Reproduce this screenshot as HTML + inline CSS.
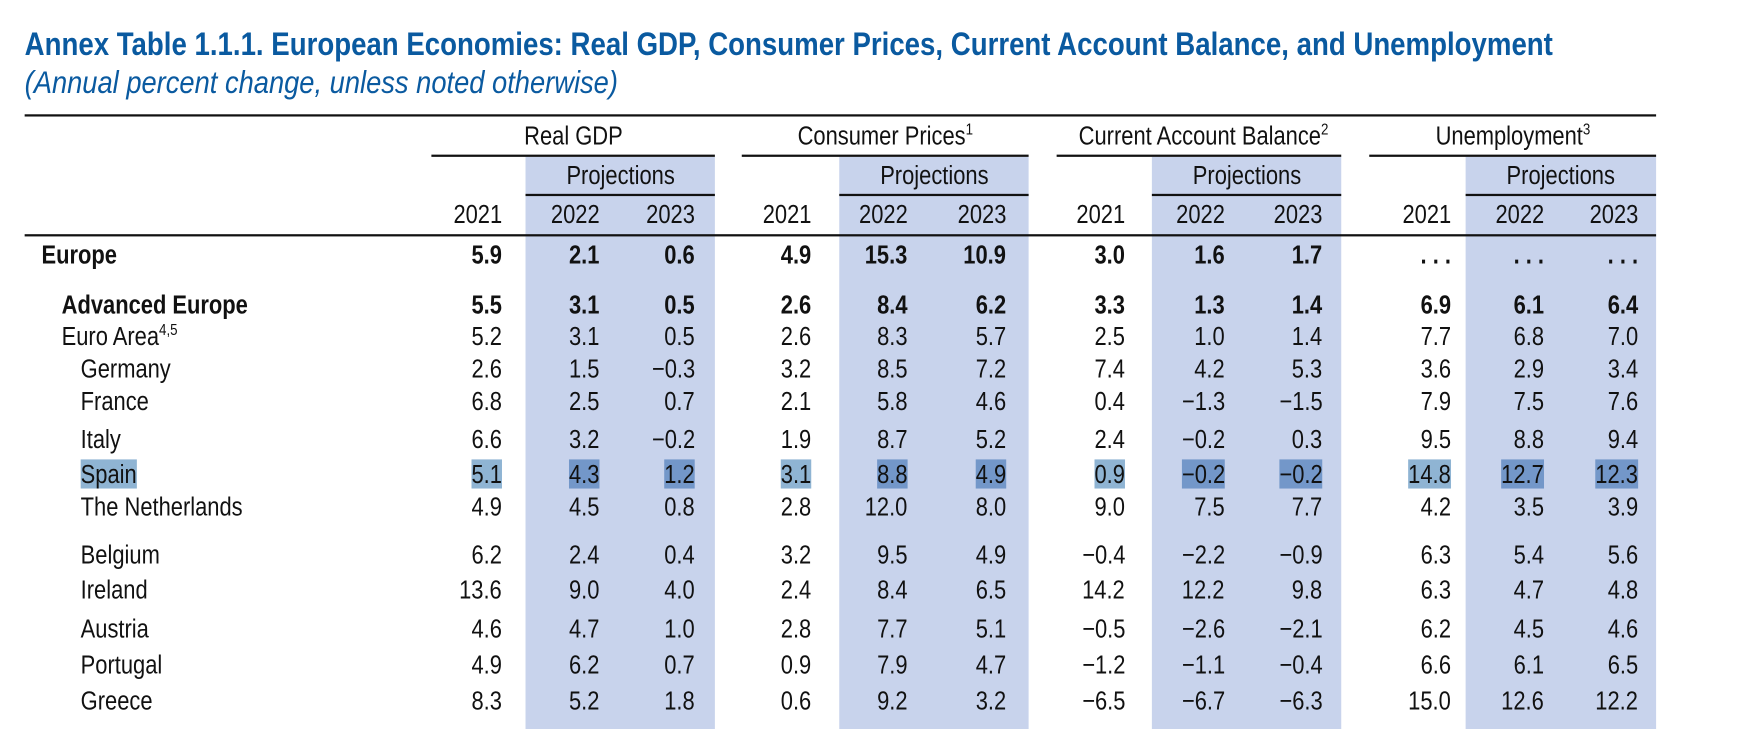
<!DOCTYPE html>
<html><head><meta charset="utf-8">
<style>
html,body{margin:0;padding:0;background:#fff;overflow:hidden}
body{width:1757px;height:729px}
#wrap{position:absolute;left:0;top:0;width:1568px;height:651px;transform:scale(1.1205);transform-origin:0 0;font-family:"Liberation Sans Narrow","Liberation Sans",sans-serif;color:#111;overflow:hidden}
.a{position:absolute;white-space:nowrap}
.in{display:inline-block}
.t{font-weight:bold;color:#0a5aa0;font-size:29px;left:22px;top:24px;transform:scaleX(.85);transform-origin:0 0}
.s{font-style:italic;color:#0a5aa0;font-size:28px;left:22px;top:58px;transform:scaleX(.87);transform-origin:0 0}
.rule{position:absolute;background:#111}
.shade{position:absolute;background:#c8d3ec}
.h{font-size:23px;text-align:center}
.h .in{transform:scaleX(.85);transform-origin:50% 50%}
.c{font-size:23px;height:26px;line-height:26px}
.num{text-align:right}
.num .in{transform:scaleX(.85);transform-origin:100% 50%}
.lab .in{transform:scaleX(.85);transform-origin:0 50%}
.hl{background:#8fb4d3}
.hl2{background:#7397c9}
sup{font-size:14px;vertical-align:9px;line-height:0}
</style></head><body>
<div id="wrap">
<div class="a t">Annex Table 1.1.1. European Economies: Real GDP, Consumer Prices, Current Account Balance, and Unemployment</div>
<div class="a s">(Annual percent change, unless noted otherwise)</div>
</div>
<script>
const groups=["Real GDP","Consumer Prices","Current Account Balance","Unemployment"];
const groupSups=["","1","2","3"];
const years=["2021","2022","2023"];
const rowLabels=["Europe","Advanced Europe","Euro Area","Germany","France","Italy","Spain","The Netherlands","Belgium","Ireland","Austria","Portugal","Greece"];
const gdp=[["5.9","2.1","0.6"],["5.5","3.1","0.5"],["5.2","3.1","0.5"],["2.6","1.5","−0.3"],["6.8","2.5","0.7"],["6.6","3.2","−0.2"],["5.1","4.3","1.2"],["4.9","4.5","0.8"],["6.2","2.4","0.4"],["13.6","9.0","4.0"],["4.6","4.7","1.0"],["4.9","6.2","0.7"],["8.3","5.2","1.8"]];
const cpi=[["4.9","15.3","10.9"],["2.6","8.4","6.2"],["2.6","8.3","5.7"],["3.2","8.5","7.2"],["2.1","5.8","4.6"],["1.9","8.7","5.2"],["3.1","8.8","4.9"],["2.8","12.0","8.0"],["3.2","9.5","4.9"],["2.4","8.4","6.5"],["2.8","7.7","5.1"],["0.9","7.9","4.7"],["0.6","9.2","3.2"]];
const cab=[["3.0","1.6","1.7"],["3.3","1.3","1.4"],["2.5","1.0","1.4"],["7.4","4.2","5.3"],["0.4","−1.3","−1.5"],["2.4","−0.2","0.3"],["0.9","−0.2","−0.2"],["9.0","7.5","7.7"],["−0.4","−2.2","−0.9"],["14.2","12.2","9.8"],["−0.5","−2.6","−2.1"],["−1.2","−1.1","−0.4"],["−6.5","−6.7","−6.3"]];
const unemp=[[". . .",". . .",". . ."],["6.9","6.1","6.4"],["7.7","6.8","7.0"],["3.6","2.9","3.4"],["7.9","7.5","7.6"],["9.5","8.8","9.4"],["14.8","12.7","12.3"],["4.2","3.5","3.9"],["6.3","5.4","5.6"],["6.3","4.7","4.8"],["6.2","4.5","4.6"],["6.6","6.1","6.5"],["15.0","12.6","12.2"]];
const series=[gdp,cpi,cab,unemp];
const W=document.getElementById('wrap');
const rowY=[227,272,300,329,358,392,423,452,495,526,561,593,625];
const rowIndent=[37,55,55,72,72,72,72,72,72,72,72,72,72];
const groupL=[385,662,943,1222],groupR=[638,918,1197,1478],shadeL=[469,749,1028,1308];
const colRight=[[448,535,620],[724,810,898],[1004,1093,1180],[1295,1378,1462]];
function add(cls,style,html){const d=document.createElement('div');d.className=cls;Object.assign(d.style,style);if(html!==undefined)d.innerHTML='<span class="in">'+html+'</span>';W.appendChild(d);return d;}
groups.forEach((g,i)=>{
  const sh=add('shade',{left:shadeL[i]+'px',top:'140px',width:(groupR[i]-shadeL[i])+'px',height:'520px'});
  
  
  const gh=add('a h',{left:groupL[i]+'px',width:(groupR[i]-groupL[i])+'px',top:'108px'},g+(groupSups[i]?'<sup>'+groupSups[i]+'</sup>':''));
  
  
  const r1=add('rule',{left:groupL[i]+'px',width:(groupR[i]-groupL[i])+'px',top:'138px',height:'2px'});
  
  
  const pj=add('a h',{left:shadeL[i]+'px',width:(groupR[i]-shadeL[i])+'px',top:'143px'},'Projections');
  
  
  const r2=add('rule',{left:shadeL[i]+'px',width:(groupR[i]-shadeL[i])+'px',top:'173px',height:'2px'});
  
  
  years.forEach((y,j)=>{
    const yh=add('a c num',{left:(colRight[i][j]-80)+'px',width:'80px',top:'178px'},y);
    
    
  });
});
const top1=add('rule',{left:'22px',width:'1456px',top:'102px',height:'2px'});


const top2=add('rule',{left:'22px',width:'1456px',top:'209px',height:'2px'});


rowLabels.forEach((lab,r)=>{
  const bold=r<2;
  const y=rowY[r]-13;
  let txt=lab;
  if(lab==="Euro Area")txt='Euro Area<sup>4,5</sup>';
  const l=add('a c lab',{left:rowIndent[r]+'px',top:y+'px',fontWeight:bold?'bold':'normal'},lab==="Spain"?'<span class="hl">Spain</span>':txt);
  
  
  series.forEach((s,i)=>{
    s[r].forEach((v,j)=>{
      let html=v;
      if(lab==="Spain")html='<span class="'+(j===0?'hl':'hl2')+'">'+v+'</span>';
      const c=add('a c num',{left:(colRight[i][j]-80)+'px',width:'80px',top:y+'px',fontWeight:bold?'bold':'normal'},html);
      
      
    });
  });
});
</script>
</body></html>
